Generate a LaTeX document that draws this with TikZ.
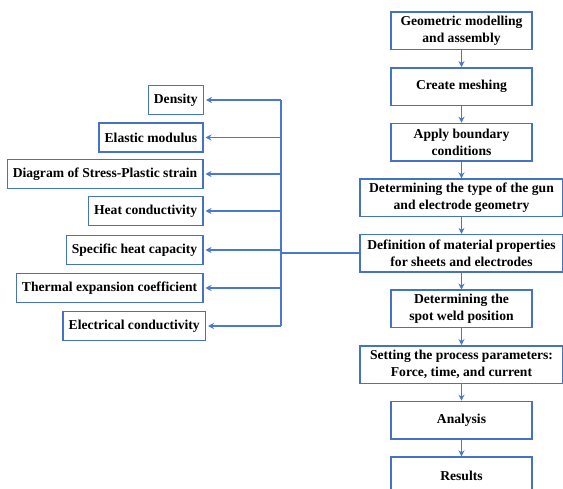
\documentclass[tikz,border=0pt]{standalone}
\usepackage{fontspec}
\setmainfont{Liberation Serif}
\usetikzlibrary{positioning,arrows.meta}
\definecolor{boxblue}{RGB}{68,114,196}
\definecolor{lineblue}{RGB}{72,120,208}
\tikzset{
	flow/.style={x=1pt,y=-1pt,>={Stealth[length=6pt,width=6pt]},node distance=16.6pt,
		font=\fontsize{13.6}{17}\selectfont\bfseries},
	stage/.style={draw=boxblue,line width=1.5pt,minimum width=141pt,minimum height=37.5pt,
		align=center,inner xsep=3pt,inner ysep=1pt},
	wide stage/.style={stage,minimum width=203pt},
	prop/.style={draw=boxblue,line width=1.5pt,minimum height=29pt,inner xsep=5.5pt,anchor=east},
	link/.style={->,draw=lineblue,line width=1.5pt}
}

\begin{document}
\begin{tikzpicture}[flow]
	\useasboundingbox (0,0) rectangle (563,489);
	
	% main sequence
	\node[stage] (geo) at (461.5,31) {Geometric modelling\\and assembly};
	\node[stage] (mesh) [below=of geo] {Create meshing};
	\node[stage] (bound) [below=of mesh] {Apply boundary\\conditions};
	\node[wide stage] (gun) [below=of bound] {Determining the type of the gun\\and electrode geometry};
	\node[wide stage] (mat) [below=of gun] {Definition of material properties\\for sheets and electrodes};
	\node[stage] (spot) [below=of mat] {Determining the\\spot weld position};
	\node[wide stage] (param) [below=of spot] {Setting the process parameters:\\Force, time, and current};
	\node[stage] (ana) [below=of param] {Analysis};
	\node[stage] (res) [below=of ana] {Results};
	
	% material properties
	\node[prop] (dens) at (204,100) {Density};
	\node[prop] (elas) at (203.5,137.5) {Elastic modulus};
	\node[prop] (diag) at (203.5,174) {Diagram of Stress-Plastic strain};
	\node[prop] (heat) at (203.5,211) {Heat conductivity};
	\node[prop] (spec) at (203.5,250) {Specific heat capacity};
	\node[prop] (therm) at (203.5,288) {Thermal expansion coefficient};
	\node[prop] (elec) at (206,326) {Electrical conductivity};
	
	\coordinate (bus) at (281,0);
	\coordinate (hub) at (bus |- mat.west);
	
	\path[link] (geo) edge (mesh);
	\path[link] (mesh) edge (bound);
	\path[link] (bound) edge (gun);
	\path[link] (gun) edge (mat);
	\path[link] (mat) edge (spot);
	\path[link] (spot) edge (param);
	\path[link] (param) edge (ana);
	\path[link] (ana) edge (res);
	
	\draw[lineblue,line width=2.2pt] (mat.west) -- (hub);
	\draw[lineblue,line width=1.5pt] (hub |- dens.east) -- (hub |- elec.east);
	\foreach \p in {dens,elas,diag,heat,spec,therm,elec}
		\draw[link,shorten >=2pt] (hub |- \p.east) -- (\p.east);
\end{tikzpicture}
\end{document}
